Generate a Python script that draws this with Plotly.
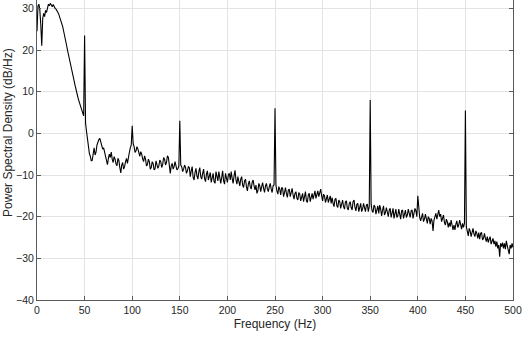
import numpy as np
import plotly.graph_objects as go

freq_hz = np.arange(0, 501, 1)
psd_db = [
    24.5, 30.5, 31, 29.5, 26, 21, 27.5, 28.8, 28, 29.5,
    29, 30.2, 31, 30.6, 31.2, 30.8, 30.4, 30.9, 30.2, 30,
    29.8, 29.2, 29, 28.5, 27.8, 27.3, 26.4, 25.6, 24.5, 23.6,
    22.5, 21.2, 20, 18.8, 17.8, 16.6, 15.5, 14.6, 13.5, 12.6,
    11.5, 10.2, 9.3, 8.6, 7.8, 7.1, 6.5, 5.6, 4.8, 4.2,
    23.5, 2.5, 0.5, -1.5, -3.5, -4.8, -5.5, -6.6, -6.5, -4.6,
    -3.5, -5.2, -4.5, -2.8, -2, -1.5, -1.2, -2.2, -2.8, -3.8,
    -3.5, -4.6, -5.2, -6.4, -7.5, -6, -5, -5.8, -4.5, -6.2,
    -7, -5.6, -6.2, -7.4, -7.8, -6, -6.5, -8.2, -9.5, -7.6,
    -7, -8.6, -8, -6.8, -6, -7.2, -5.5, -4.6, -3.5, -2.8,
    1.8, -2.4, -3.2, -4.6, -4.2, -3.2, -3.8, -5, -5.5, -4.4,
    -5, -6.2, -6.8, -5.4, -6.2, -7.8, -7.5, -6.2, -6.8, -8.6,
    -8.2, -6.8, -7.2, -8.8, -8.5, -6.6, -7.5, -8.4, -7.8, -6.4,
    -6.8, -8.2, -7.5, -5.8, -6.2, -7.6, -7, -5.4, -5.8, -7.4,
    -9.6, -7.8, -7.2, -8.6, -8, -6.8, -7.6, -8.8, -8.5, -7.8,
    3, -7.6, -8, -9.2, -8.6, -7.6, -8.2, -9.6, -9, -8,
    -8.2, -10.4, -9, -8, -10.6, -11.2, -9.4, -8.4, -10.2, -11,
    -9.2, -8.2, -10.4, -11, -9.6, -8.6, -10.8, -11.6, -9.8, -9,
    -11.2, -10.2, -9.4, -11.8, -10.8, -9.6, -11.6, -12, -9.2, -10.6,
    -11.4, -9.2, -10.2, -12, -10.6, -9, -11.4, -12.2, -9.6, -10.8,
    -11.8, -10, -9.6, -11.2, -9.2, -10.8, -12, -10.2, -8.9, -11.2,
    -12.2, -10.4, -11.6, -12.6, -11, -10.4, -12.4, -13, -11.4, -11,
    -12.8, -13.8, -12.2, -11.4, -12.8, -13.4, -11.8, -11.2, -12.6, -13.6,
    -12.4, -14.4, -13.8, -12, -12.6, -14, -12.8, -11.8, -13.2, -14.2,
    -12.6, -12, -13.4, -14, -12.8, -12, -13.4, -14.2, -12.6, -12.4,
    6, -12.4, -13.8, -14.6, -12.8, -13.4, -14.8, -13, -13.2, -15.2,
    -14.2, -13, -14.4, -15.4, -13.6, -13.4, -15.2, -14, -13.2, -14.8,
    -15.8, -14.4, -14, -15.6, -16, -14.2, -14.6, -16.2, -15, -14.4,
    -16.4, -14.6, -14, -16.2, -16.6, -14.8, -14.4, -16.4, -15, -14.4,
    -15.8, -14.2, -13.8, -15.6, -14.8, -13.8, -15.2, -14.4, -13.4, -15,
    -16.2, -14.6, -15, -16.6, -15.2, -14.8, -16.6, -15.6, -15, -16.8,
    -15.4, -16.8, -17.6, -15.8, -15.6, -17.4, -17.8, -16, -16.4, -18,
    -16.8, -16, -17.6, -18.2, -16.4, -16.2, -18, -18.4, -16.8, -16.4,
    -17.8, -18.4, -16.4, -16, -17.8, -18.6, -17, -16.8, -18.8, -17.4,
    -16.8, -18.8, -18.2, -16.8, -17.8, -18.8, -17.2, -17, -18.8, -17.6,
    8, -17, -18.6, -19, -17.2, -17.6, -19.4, -18.2, -17.4, -19.2,
    -17.2, -18.2, -19.8, -18.4, -17.4, -19.6, -19, -17.8, -18.6, -20,
    -18.4, -18, -20.2, -19.2, -18, -20.4, -19.4, -18.2, -20.2, -19.8,
    -18.2, -19.8, -20.6, -18.6, -18.4, -20.4, -19.2, -18.4, -20.2, -19.6,
    -18.2, -19.8, -20.2, -18.6, -18.4, -20.4, -19.2, -18, -18.6, -20,
    -15, -19, -20.2, -21, -19.6, -19.2, -21.2, -20.6, -19.4, -20.6,
    -21.6, -20, -20.4, -21.8, -20.4, -21, -23.4, -20.8, -20, -19.2,
    -20.6, -19, -18.4, -20, -19.4, -21.2, -20.2, -19.6, -21.4, -22,
    -20.6, -21.2, -22.6, -21.4, -22.4, -20.8, -22, -23.2, -22, -23.2,
    -21.8, -21, -22.6, -22, -20.8, -22.2, -23, -21.6, -22.6, -21.6,
    5.5, -22.4, -23.8, -24.6, -22.8, -23.4, -24.8, -23.6, -22.8, -24.2,
    -24.8, -23.4, -24, -25.2, -23.8, -25.4, -24, -23.8, -25.6, -25.2,
    -24, -25.2, -26, -24.8, -26.2, -25.4, -24.8, -26.6, -25.8, -25.2,
    -26.6, -25.8, -27.2, -26, -27.6, -26.8, -29.6, -26.4, -27.2, -26.2,
    -27.6, -26.4, -27.8, -25.8, -27, -28.2, -29, -26.8, -27.6, -26.4,
    -27.4,
]
x_ticks = [0, 50, 100, 150, 200, 250, 300, 350, 400, 450, 500]
y_ticks = [-40, -30, -20, -10, 0, 10, 20, 30]

fig = go.Figure(go.Scatter(x=freq_hz, y=psd_db, mode="lines",
                           line=dict(color="black", width=1.1)))

axis_color = "#5a5a5a"
font = dict(family="Liberation Sans, Arial, sans-serif", size=10.5, color="#262626")
fig.update_layout(
    width=527, height=337,
    margin=dict(l=37, r=14, t=0, b=37),
    paper_bgcolor="white", plot_bgcolor="white",
    showlegend=False, font=font,
    annotations=[dict(
        text="Power Spectral Density (dB/Hz)", textangle=-90,
        xref="paper", yref="paper", x=-0.061, y=0.56,
        xanchor="center", yanchor="middle", showarrow=False,
        font=dict(size=12, color="#262626"),
    )],
)
fig.update_xaxes(
    range=[0, 500], tickvals=x_ticks, ticks="inside", ticklen=4,
    tickcolor=axis_color, showline=True, linecolor=axis_color, linewidth=1,
    mirror=False, showgrid=True, gridcolor="#e3e3e3", gridwidth=1, zeroline=False,
    title=dict(text="Frequency (Hz)", standoff=5, font=dict(size=12)),
)
fig.update_yaxes(
    range=[-40, 32], tickvals=y_ticks, ticks="inside", ticklen=4,
    tickcolor=axis_color, showline=True, linecolor=axis_color, linewidth=1,
    mirror="ticks", showgrid=True, gridcolor="#e3e3e3", gridwidth=1, zeroline=False,
)
fig.write_html("out.html")
